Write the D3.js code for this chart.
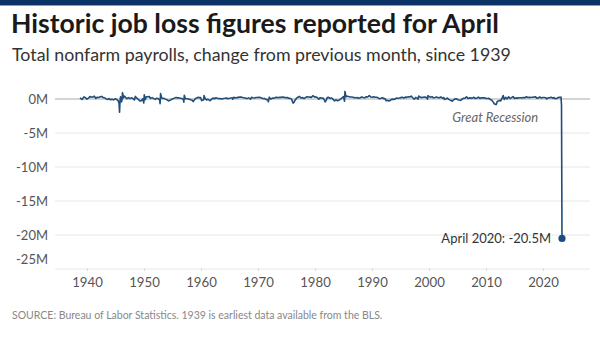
<!DOCTYPE html>
<html>
<head>
<meta charset="utf-8">
<script src="https://cdn.jsdelivr.net/npm/d3@7"></script>
<style>
  html, body { margin: 0; padding: 0; background: #fff; }
  svg { display: block; font-family: Lato, "Open Sans", sans-serif; }
</style>
</head>
<body>
<svg id="chart" width="600" height="338"></svg>
<script>
// Monthly change in total nonfarm payrolls (thousands of jobs), selected months
const months = [
  "1939-01","1939-05","1939-09","1939-12","1940-03","1940-06","1940-09","1940-12",
  "1941-03","1941-06","1941-09","1941-12","1942-03","1942-06","1942-09","1942-12",
  "1943-03","1943-06","1943-09","1943-12","1944-03","1944-06","1944-09","1944-12",
  "1945-03","1945-06","1945-08","1945-09","1945-10","1945-11","1945-12","1946-01",
  "1946-02","1946-03","1946-05","1946-07","1946-09","1946-12","1947-03","1947-06",
  "1947-09","1947-12","1948-03","1948-05","1948-08","1948-11","1949-02","1949-05",
  "1949-08","1949-10","1949-11","1950-01","1950-03","1950-06","1950-09","1950-12",
  "1951-03","1951-06","1951-09","1951-12","1952-03","1952-06","1952-07","1952-08",
  "1952-10","1952-12","1953-03","1953-06","1953-09","1953-12","1954-03","1954-06",
  "1954-09","1954-12","1955-03","1955-06","1955-09","1955-12","1956-03","1956-06",
  "1956-07","1956-08","1956-10","1956-12","1957-03","1957-06","1957-09","1957-12",
  "1958-02","1958-05","1958-08","1958-11","1959-02","1959-05","1959-07","1959-09",
  "1959-11","1959-12","1960-02","1960-05","1960-08","1960-12","1961-03","1961-06",
  "1961-09","1961-12","1962-03","1962-06","1962-09","1962-12","1963-03","1963-06",
  "1963-09","1963-12","1964-03","1964-06","1964-09","1964-10","1964-12","1965-03",
  "1965-06","1965-09","1965-12","1966-03","1966-06","1966-09","1966-12","1967-03",
  "1967-06","1967-09","1967-10","1967-12","1968-03","1968-06","1968-09","1968-12",
  "1969-03","1969-06","1969-09","1969-12","1970-03","1970-06","1970-09","1970-10",
  "1970-12","1971-03","1971-06","1971-09","1971-12","1972-03","1972-06","1972-09",
  "1972-12","1973-03","1973-06","1973-09","1973-12","1974-03","1974-06","1974-09",
  "1974-12","1975-02","1975-04","1975-07","1975-10","1976-01","1976-04","1976-07",
  "1976-10","1977-01","1977-04","1977-07","1977-10","1978-01","1978-04","1978-07",
  "1978-10","1979-01","1979-04","1979-07","1979-10","1980-01","1980-04","1980-05",
  "1980-07","1980-09","1980-12","1981-03","1981-06","1981-09","1981-12","1982-03",
  "1982-06","1982-09","1982-12","1983-03","1983-06","1983-08","1983-09","1983-11",
  "1984-01","1984-04","1984-07","1984-10","1985-01","1985-04","1985-07","1985-10",
  "1986-01","1986-04","1986-07","1986-10","1987-01","1987-04","1987-07","1987-10",
  "1988-01","1988-04","1988-07","1988-10","1989-01","1989-04","1989-07","1989-10",
  "1990-01","1990-04","1990-06","1990-08","1990-11","1991-02","1991-05","1991-08",
  "1991-11","1992-02","1992-05","1992-08","1992-11","1993-02","1993-05","1993-08",
  "1993-11","1994-02","1994-05","1994-08","1994-11","1995-02","1995-05","1995-08",
  "1995-11","1996-01","1996-02","1996-05","1996-08","1996-11","1997-02","1997-05",
  "1997-08","1997-09","1997-11","1998-02","1998-05","1998-08","1998-11","1999-02",
  "1999-05","1999-08","1999-11","2000-02","2000-05","2000-06","2000-09","2000-12",
  "2001-03","2001-06","2001-09","2001-10","2001-12","2002-03","2002-06","2002-09",
  "2002-12","2003-03","2003-06","2003-09","2003-12","2004-03","2004-06","2004-09",
  "2004-12","2005-03","2005-06","2005-09","2005-12","2006-03","2006-06","2006-09",
  "2006-12","2007-03","2007-06","2007-09","2007-12","2008-03","2008-06","2008-09",
  "2008-11","2009-01","2009-03","2009-05","2009-07","2009-10","2009-12","2010-03",
  "2010-05","2010-07","2010-10","2011-01","2011-04","2011-07","2011-10","2012-01",
  "2012-04","2012-07","2012-10","2013-01","2013-04","2013-07","2013-10","2014-01",
  "2014-04","2014-07","2014-10","2015-01","2015-04","2015-07","2015-10","2016-01",
  "2016-04","2016-07","2016-10","2017-01","2017-04","2017-07","2017-09","2017-12",
  "2018-03","2018-06","2018-09","2018-12","2019-02","2019-05","2019-08","2019-11",
  "2020-01","2020-02","2020-03","2020-04"
];

const changeThousands = [
  152,-60,312,180,-20,120,350,300,
  280,420,80,260,230,320,380,200,
  180,20,-80,60,-120,-40,-130,30,
  -60,-230,-620,-1959,-210,330,150,-420,
  -160,930,180,420,250,60,210,60,
  170,90,-140,380,120,-70,-280,-250,
  40,-590,620,-100,320,340,350,90,
  200,50,-60,120,60,-130,-690,800,
  180,80,90,-20,-120,-280,-200,-60,
  40,130,220,170,160,120,80,-90,
  -470,540,60,40,30,-40,-120,-190,
  -390,-60,130,240,200,200,-230,-180,
  -150,520,90,-150,-50,-240,-50,140,
  40,180,120,30,70,10,80,100,
  150,40,110,140,180,-30,240,170,
  200,240,280,290,220,170,120,60,
  170,60,-20,240,190,150,220,210,
  250,220,120,60,50,-90,-120,-400,
  270,-20,140,110,200,250,180,260,
  240,300,240,170,220,100,90,-20,
  -600,-480,-170,120,260,380,140,200,
  80,190,340,290,280,240,480,300,
  310,220,-40,200,120,130,-250,-430,
  -200,200,240,80,140,-60,-270,-120,
  -250,-180,-20,160,350,-310,1114,350,
  400,370,300,290,260,200,180,200,
  130,180,300,220,170,330,290,500,
  300,250,330,250,260,170,40,110,
  200,30,60,-240,-200,-300,-180,-20,
  -50,-20,140,100,140,200,240,160,
  270,240,340,290,420,180,-20,230,
  130,-20,430,290,200,250,300,250,
  -10,490,380,240,350,170,230,300,
  200,180,300,120,220,-50,-10,150,
  -50,-170,-250,-330,-170,-20,40,-100,
  -160,-200,-10,110,120,330,80,160,
  130,140,250,70,150,280,80,170,
  170,180,70,80,110,-90,-170,-460,
  -720,-790,-800,-350,-290,-210,-270,160,
  520,-60,240,20,320,70,200,360,
  70,160,130,190,190,150,220,190,
  330,230,270,230,250,270,340,130,
  150,300,150,210,210,190,20,170,
  180,260,120,220,50,80,200,260,
  210,275,-870,-20500
];

const yTicks = [0, -5, -10, -15, -20, -25];           // millions
const yearTicks = [1940, 1950, 1960, 1970, 1980, 1990, 2000, 2010, 2020];

const data = months.map((m, i) => {
  const [y, mo] = m.split("-").map(Number);
  return { t: y + (mo - 1) / 12, v: changeThousands[i] / 1000 };
});
const last = data[data.length - 1];

const svg = d3.select("#chart");

// header band
svg.append("rect").attr("x", 0).attr("y", 0).attr("width", 600).attr("height", 5).attr("fill", "#0d3267");
svg.append("rect").attr("x", 0).attr("y", 5).attr("width", 600).attr("height", 1).attr("fill", "#7ea3cc");

svg.append("text").attr("x", 11).attr("y", 33)
  .attr("font-size", 26.6).attr("font-weight", 700).attr("fill", "#1a1a1a")
  .text("Historic job loss figures reported for April");
svg.append("text").attr("x", 12).attr("y", 61)
  .attr("font-size", 17.8).attr("fill", "#333")
  .text("Total nonfarm payrolls, change from previous month, since 1939");

// scales
const x = d3.scaleLinear().domain([1939, 2020.25]).range([80, 562]);
const y = d3.scaleLinear().domain([0, -25]).range([99, 269]);
// year labels sit on their own evenly spaced ruler beneath the plot
const xLabel = d3.scaleLinear().domain([1940, 2020]).range([87, 543]);

// gridlines
svg.append("g").selectAll("line").data(yTicks.filter(d => d !== 0)).join("line")
  .attr("x1", 55).attr("x2", 590)
  .attr("y1", d => y(d)).attr("y2", d => y(d))
  .attr("stroke", "#e6e6e6").attr("stroke-width", 1);
svg.append("line").attr("x1", 55).attr("x2", 590)
  .attr("y1", y(0)).attr("y2", y(0))
  .attr("stroke", "#a9a9a9").attr("stroke-width", 1);

// y axis labels
const yAxis = svg.append("g").attr("transform", "translate(48,0)")
  .call(d3.axisLeft(y).tickValues(yTicks).tickSize(0).tickPadding(0).tickFormat(d => d + "M"));
yAxis.select(".domain").remove();
yAxis.selectAll("text").attr("font-size", 13).attr("fill", "#555")
  .attr("font-family", "Lato, 'Open Sans', sans-serif");
yAxis.selectAll(".tick").filter(d => d === -25).select("text").attr("dy", "-0.45em");

// x axis labels
const xAxis = svg.append("g").attr("transform", "translate(0,268)")
  .call(d3.axisBottom(xLabel).tickValues(yearTicks).tickSize(3).tickPadding(7).tickFormat(d3.format("d")));
xAxis.select(".domain").remove();
xAxis.selectAll("line").attr("stroke", "#dcdcdc");
xAxis.selectAll("text").attr("font-size", 13.2).attr("fill", "#555")
  .attr("font-family", "Lato, 'Open Sans', sans-serif");

// payroll line
const line = d3.line().x(d => x(d.t)).y(d => y(d.v));
svg.append("path").datum(data)
  .attr("d", line).attr("fill", "none")
  .attr("stroke", "#1f4e7a").attr("stroke-width", 1.6).attr("stroke-linejoin", "round");

svg.append("circle").attr("cx", x(last.t)).attr("cy", y(last.v)).attr("r", 3.6).attr("fill", "#1b4d80");

// annotations
svg.append("text").attr("x", x(last.t) - 11).attr("y", y(last.v) + 4.5)
  .attr("text-anchor", "end").attr("font-size", 13).attr("fill", "#333")
  .text("April 2020: " + last.v.toFixed(1) + "M");
svg.append("text").attr("x", x(2009.0)).attr("y", 122)
  .attr("text-anchor", "middle").attr("font-size", 13).attr("font-style", "italic").attr("fill", "#666")
  .text("Great Recession");

svg.append("text").attr("x", 12).attr("y", 319)
  .attr("font-size", 10.5).attr("fill", "#888")
  .text("SOURCE: Bureau of Labor Statistics. 1939 is earliest data available from the BLS.");
</script>
</body>
</html>
